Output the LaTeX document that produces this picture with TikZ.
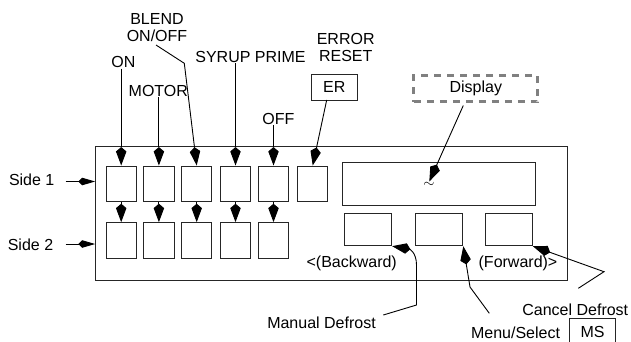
\documentclass[tikz,border=0pt]{standalone}
\usepackage{fontspec}
\setmainfont{Liberation Sans}
\usetikzlibrary{arrows.meta}
\begin{document}
\begin{tikzpicture}[x=1pt,y=-1pt,
  lbl/.style={inner sep=0.5pt, font=\fontsize{16}{17}\selectfont, align=center},
  box/.style={draw=black!85, line width=0.9pt, inner sep=0pt},
  btn/.style={box, minimum width=30.3pt, minimum height=35.7pt},
  wbtn/.style={box, minimum width=47.3pt, minimum height=32.4pt},
  conn/.style={line width=0.9pt, -{Stealth[length=14pt,width=10pt,inset=-4.5pt]}},
  sconn/.style={line width=0.9pt, -{Stealth[length=13pt,width=7pt,inset=-4pt]}}
]
\useasboundingbox (0,0) rectangle (631,341);

% outer panel
\node[box, minimum width=472pt, minimum height=133.3pt] (outer) at (331.7,213.35) {};

% top row buttons
\node[btn] (b1) at (121.2,183.85) {};
\node[btn] (b2) at (158.9,183.85) {};
\node[btn] (b3) at (196.7,183.85) {};
\node[btn] (b4) at (235.5,183.85) {};
\node[btn] (b5) at (273.5,183.85) {};
\node[btn] (b6) at (312.7,183.85) {};
% bottom row buttons
\node[btn] (c1) at (121.2,240.5) {};
\node[btn] (c2) at (158.9,240.5) {};
\node[btn] (c3) at (196.7,240.5) {};
\node[btn] (c4) at (235.5,240.5) {};
\node[btn] (c5) at (273.5,240.5) {};

% display and its buttons
\node[box, minimum width=192.7pt, minimum height=43pt] (lcd) at (438.65,184.2) {};
\node[inner sep=0pt, font=\fontsize{15}{15}\selectfont] (tl) at (429,184.5) {$\sim$};
\node[wbtn] (bk) at (368,229.5) {};
\node[wbtn] (mn) at (439.2,229.5) {};
\node[wbtn] (fw) at (508.65,229.5) {};

% labels
\node[lbl] (blend) at (157,27.5) {BLEND\\ON/OFF};
\node[lbl] (on) at (123.3,62.3) {ON};
\node[lbl] (motor) at (158.3,90.7) {MOTOR};
\node[lbl] (syrup) at (250.5,56.7) {SYRUP PRIME};
\node[lbl] (off) at (278.3,119) {OFF};
\node[lbl] (error) at (345.7,47.8) {ERROR\\RESET};
\node[lbl, draw=black!85, line width=0.9pt, minimum width=46.7pt, minimum height=26pt] (er) at (334.3,87) {ER};
\node[lbl, draw=gray, line width=3pt, dash pattern=on 7pt off 6pt, minimum width=124pt, minimum height=26.3pt] (disp) at (475.8,88.7) {Display};
\node[lbl] (side1) at (31.7,180) {Side 1};
\node[lbl] (side2) at (30.5,244.3) {Side 2};
\node[lbl] (back) at (351.7,263) {<(Backward)};
\node[lbl] (fwd) at (518,263) {(Forward)>};
\node[lbl] (md) at (321.5,322.5) {Manual Defrost};
\node[lbl] (menu) at (515.5,333) {Menu/Select};
\node[lbl] (cancel) at (575.3,309.3) {Cancel Defrost};
\node[lbl, minimum width=46.4pt, minimum height=26pt] (ms) at (592.5,332) {MS};
\draw[black!85, line width=0.9pt] (ms.south west) -- (ms.north west) -- (ms.north east) -- (ms.south east);

% connectors from labels
\draw[conn] (on.south -| b1.north) -- (b1.north);
\draw[conn] (motor.south -| b2.north) -- (b2.north);
\coordinate (blA) at (156,45);
\coordinate (blB) at (184.3,63.3);
\draw[conn] (blA) -- (blB) -- (b3.north);
\draw[conn] (syrup.south -| b4.north) -- (b4.north);
\draw[conn] (off.south -| b5.north) -- (b5.north);
\coordinate (erA) at (326.7,100);
\draw[conn] (erA) -- (b6.north);
\coordinate (dA) at (463.3,105.5);
\coordinate (dtip) at (429.3,181.5);
\draw[conn] (dA) -- (dtip);

% row to row
\foreach \i in {1,...,5}{
  \draw[conn] (b\i.south) -- (c\i.north);
}

% side arrows
\coordinate (s1A) at (65.7,181.5);
\coordinate (s2A) at (65.7,244);
\draw[sconn] (s1A) -- (s1A -| outer.west);
\draw[sconn] (s2A) -- (s2A -| outer.west);

% bottom connectors
\coordinate (mdA) at (383.3,315);
\coordinate (mdB) at (416.5,305);
\coordinate (mdC) at (416.5,265);
\draw[conn] (mdA) -- (mdB) -- (mdC) .. controls (416.5,252) and (409,249) .. (bk.south east);
\coordinate (msA) at (489.3,313.3);
\coordinate (msB) at (470,287);
\draw[conn] (msA) -- (msB) -- (mn.south east);
\coordinate (cdA) at (578.3,288.3);
\coordinate (cdB) at (604,271.7);
\draw[conn] (cdA) -- (cdB) -- (fw.south east);
\end{tikzpicture}
\end{document}
